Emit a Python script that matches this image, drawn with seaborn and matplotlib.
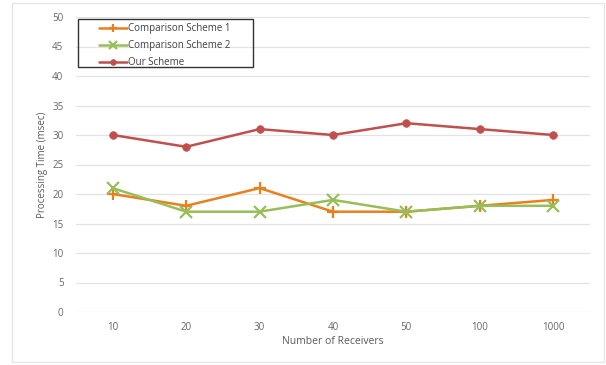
import matplotlib
matplotlib.use("Agg")
import matplotlib.pyplot as plt
import matplotlib.patches as mpatches
import seaborn as sns
import pandas as pd

receivers = ["10", "20", "30", "40", "50", "100", "1000"]
scheme1 = [20, 18, 21, 17, 17, 18, 19]
scheme2 = [21, 17, 17, 19, 17, 18, 18]
our_scheme = [30, 28, 31, 30, 32, 31, 30]
series_names = ["Comparison Scheme 1", "Comparison Scheme 2", "Our Scheme"]

df = pd.DataFrame({
    "Receivers": receivers * 3,
    "Time": scheme1 + scheme2 + our_scheme,
    "Series": [series_names[0]] * 7 + [series_names[1]] * 7 + [series_names[2]] * 7,
})

sns.set_theme(style="white")
plt.rcParams["font.family"] = ["Open Sans", "DejaVu Sans"]

W, H = 606, 365
fig = plt.figure(figsize=(W / 100, H / 100), dpi=100)
ax = fig.add_axes([76 / W, 53 / H, 514 / W, 295 / H])

# light frame around the whole chart
fig.patches.append(mpatches.Rectangle((12 / W, 3 / H), 592 / W, 359 / H,
                                      transform=fig.transFigure, fill=False,
                                      edgecolor="#e6e6e6", linewidth=1.0))

palette = {series_names[0]: "#E8801F", series_names[1]: "#98BE5A", series_names[2]: "#C0504D"}
markers = {series_names[0]: "+", series_names[1]: "x", series_names[2]: "o"}

for name in series_names:
    sub = df[df["Series"] == name]
    mk = markers[name]
    sns.lineplot(data=sub, x="Receivers", y="Time", ax=ax, color=palette[name],
                 marker=mk, markersize=8 if mk != "o" else 5.5,
                 markeredgewidth=1.6 if mk != "o" else 0.5,
                 markeredgecolor=palette[name], linewidth=1.8,
                 label=name, sort=False)

ax.set_xlim(-0.5, len(receivers) - 0.5)
ax.set_ylim(0, 50)
ax.set_yticks(range(0, 51, 5))
ax.grid(axis="y", color="#e3e3e3", linewidth=0.9)
ax.grid(axis="x", visible=False)
ax.set_axisbelow(True)
for s in ax.spines.values():
    s.set_visible(False)
ax.tick_params(axis="both", length=0, labelsize=7, labelcolor="#666666")
ax.tick_params(axis="y", pad=9)
ax.tick_params(axis="x", pad=7)

ax.set_xlabel("Number of Receivers", fontsize=7.5, color="#595959", labelpad=2)
ax.set_ylabel("Processing Time (msec)", fontsize=7, color="#595959", labelpad=3)

# legend entries without their own frame, boxed by a separate rectangle
leg = ax.legend(loc="upper left", bbox_to_anchor=(99 / W, (H - 23) / H),
                bbox_transform=fig.transFigure, fontsize=7, frameon=False,
                handlelength=2.9, handletextpad=0.1, borderpad=0.0,
                labelspacing=0.62, borderaxespad=0.0, markerscale=0.75)
for t in leg.get_texts():
    t.set_color("#404040")
fig.patches.append(mpatches.Rectangle((78 / W, (H - 67) / H), 175 / W, 48 / H,
                                      transform=fig.transFigure, fill=False,
                                      edgecolor="#333333", linewidth=1.0))

fig.savefig("out.png", dpi=100, facecolor="white")
